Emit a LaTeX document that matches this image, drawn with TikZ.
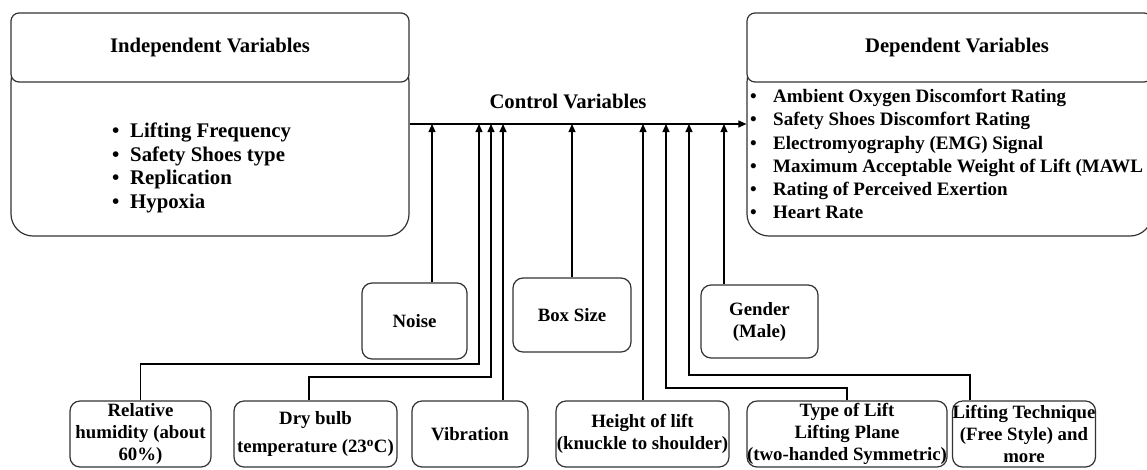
\documentclass[tikz,border=0pt]{standalone}
\usepackage{fontspec}
\setmainfont{Liberation Serif}
\usetikzlibrary{arrows.meta}
\begin{document}
\begin{tikzpicture}[x=1pt,y=-1pt,
  boxline/.style={draw=black!80, line width=1.2pt},
  big/.style={boxline, rounded corners=22pt, fill=white},
  hdr/.style={boxline, rounded corners=8pt, fill=white},
  small/.style={boxline, rounded corners=10pt, inner sep=0pt, align=center, font=\fontsize{18.8}{22}\selectfont\bfseries},
  ttl/.style={font=\fontsize{20.7}{24}\selectfont\bfseries, inner sep=0pt},
  lst/.style={font=\fontsize{20.8}{23.6}\selectfont\bfseries, align=left, inner sep=0pt, anchor=west},
  conn/.style={draw=black, line width=1.1pt},
  arr/.style={conn, -{Triangle[length=8pt,width=7pt]}},
]
\clip (0,0) rectangle (1147,469);
\fill[white] (0,0) rectangle (1147,469);

% left box
\node[big, minimum width=398pt, minimum height=176pt] (bodyL) at (210,148) {};
\node[hdr, minimum width=398pt, minimum height=69pt] (hdrL) at (210,47.5) {};
\node[ttl] (ttlL) at (210,48) {Independent Variables};
\node[lst] (lstL) at (112,168) {\makebox[18pt][l]{\textbullet}Lifting Frequency\\
\makebox[18pt][l]{\textbullet}Safety Shoes type\\
\makebox[18pt][l]{\textbullet}Replication\\
\makebox[18pt][l]{\textbullet}Hypoxia};

% right box
\node[big, minimum width=405pt, minimum height=176pt] (bodyR) at (949.5,148) {};
\node[hdr, minimum width=405pt, minimum height=69pt] (hdrR) at (949.5,47.5) {};
\node[ttl] (ttlR) at (957,48) {Dependent Variables};
\node[lst, font=\fontsize{19.0}{23.2}\selectfont\bfseries] (lstR) at (750,154) {\makebox[23pt][l]{\textbullet}Ambient Oxygen Discomfort Rating\\
\makebox[23pt][l]{\textbullet}Safety Shoes Discomfort Rating\\
\makebox[23pt][l]{\textbullet}Electromyography (EMG) Signal\\
\makebox[23pt][l]{\textbullet}Maximum Acceptable Weight of Lift (MAWL\\
\makebox[23pt][l]{\textbullet}Rating of Perceived Exertion\\
\makebox[23pt][l]{\textbullet}Heart Rate};

% control variables
\node[ttl] (ctl) at (568,101) {Control Variables};
\coordinate (b0) at (0,124);
\draw[arr] (bodyL.east |- b0) -- (bodyR.west |- b0);

% middle boxes
\node[small, minimum width=105pt, minimum height=76pt] (noise) at (414.5,321) {Noise};
\node[small, minimum width=118pt, minimum height=74pt] (bsize) at (572,315) {Box Size};
\node[small, minimum width=117pt, minimum height=73pt] (gender) at (759.5,321.5) {Gender\\(Male)};

% bottom boxes
\node[small, minimum width=141pt, minimum height=66pt] (rh) at (140.5,434) {Relative\\humidity (about\\60\%)};
\node[small, minimum width=163pt, minimum height=66pt] (dry) at (315.5,434) {Dry bulb\\[6pt]temperature (23\textsuperscript{o}C)};
\node[small, minimum width=116pt, minimum height=66pt] (vib) at (470,434) {Vibration};
\node[small, minimum width=173pt, minimum height=66pt] (hgt) at (642.5,434) {Height of lift\\(knuckle to shoulder)};
\node[small, minimum width=198pt, minimum height=66pt] (typ) at (847,434) {Type of Lift\\Lifting Plane\\(two-handed Symmetric)};
\node[small, minimum width=122pt, minimum height=66pt] (ltq) at (1024,434) {Lifting Technique\\(Free Style) and\\more};

% taps on the bus
\coordinate (t1) at (432,124);
\coordinate (t2) at (479,124);
\coordinate (t3) at (491,124);
\coordinate (t4) at (503,124);
\coordinate (t5) at (572,124);
\coordinate (t6) at (643,124);
\coordinate (t7) at (666,124);
\coordinate (t8) at (689,124);
\coordinate (t9) at (724,124);
\coordinate (j2) at (479,364);
\coordinate (j3) at (491,377);
\coordinate (j7) at (666,388);
\coordinate (j8) at (970,375);

\draw[arr] (noise.north -| t1) -- (t1);
\draw[arr] (rh.north) |- (j2) -- (t2);
\draw[arr] ([xshift=-6.5pt]dry.north) |- (j3) -- (t3);
\draw[arr] (vib.north -| t4) -- (t4);
\draw[arr] (bsize.north -| t5) -- (t5);
\draw[arr] (hgt.north -| t6) -- (t6);
\draw[arr] (typ.north) |- (j7) -- (t7);
\draw[arr] (ltq.north -| j8) -- (j8) -| (t8);
\draw[arr] (gender.north -| t9) -- (t9);
\end{tikzpicture}
\end{document}
